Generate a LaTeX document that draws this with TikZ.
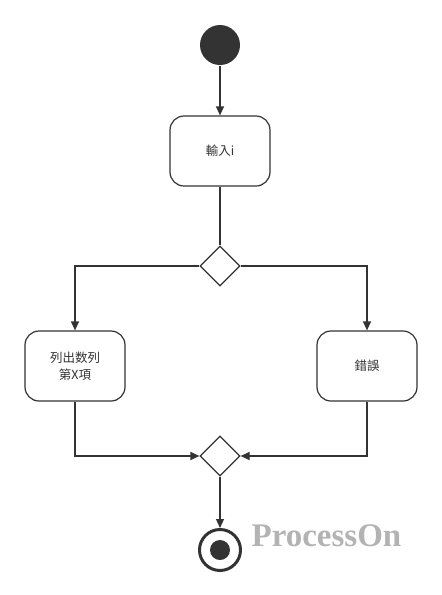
\documentclass[tikz,border=0pt]{standalone}
\usepackage{fontspec}
\newfontfamily\cjk{Noto Sans CJK TC}
\newfontfamily\wmfont{Liberation Serif}
\usetikzlibrary{arrows.meta,shapes.geometric}
\definecolor{ink}{HTML}{333333}
\definecolor{wm}{HTML}{B3B3B3}
\begin{document}
\begin{tikzpicture}[x=1pt,y=-1pt,
  line width=1.2pt,
  flow/.style={draw=ink,-{Triangle[length=9pt,width=8pt]}},
  act/.style={draw=ink,rounded corners=14pt,minimum width=100pt,minimum height=70pt,inner sep=0pt,font=\cjk\fontsize{12.5}{17}\selectfont,text=ink,align=center,fill=white},
  dec/.style={draw=ink,diamond,minimum width=40pt,minimum height=40pt,inner sep=0pt,fill=white}]
\useasboundingbox (0,0) rectangle (442,595);
\node[circle,fill=ink,minimum size=40pt,inner sep=0pt] (start) at (220,45) {};
\node[act] (input) at (220,151) {輸入i};
\node[dec] (d1) at (220,266) {};
\node[act] (list) at (75,366) {列出数列\\第X項};
\node[act] (err) at (367,366) {錯誤};
\node[dec] (d2) at (220,456) {};
\node[circle,draw=ink,line width=3pt,minimum size=41pt,inner sep=0pt] (stop) at (220,550) {};
\node[circle,fill=ink,minimum size=20pt,inner sep=0pt] (stopdot) at (stop) {};
\node[font=\wmfont\bfseries\fontsize{33}{33}\selectfont,text=wm,anchor=west,inner sep=0pt] (mark) at (251,536) {ProcessOn};
\draw[flow] (start) -- (input);
\draw[draw=ink] (input) -- (d1);
\draw[flow] (d1.west) -| (list.north);
\draw[flow] (d1.east) -| (err.north);
\draw[flow] (list.south) |- (d2.west);
\draw[flow] (err.south) |- (d2.east);
\draw[flow] (d2.south) -- (stop.north);
\end{tikzpicture}
\end{document}
